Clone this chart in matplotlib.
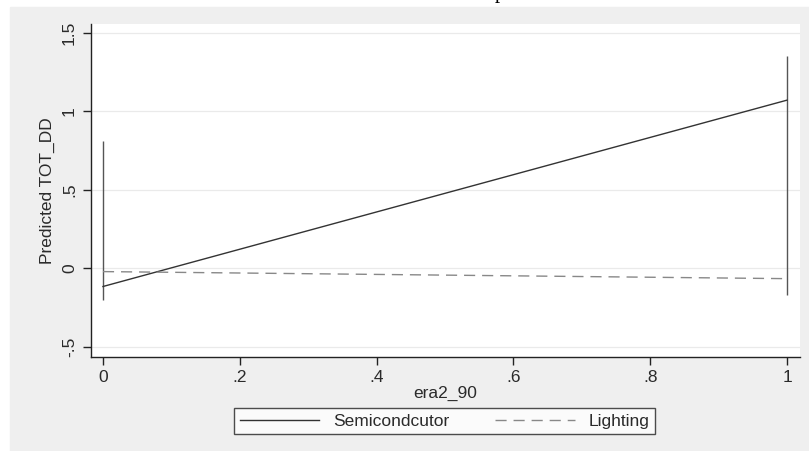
import matplotlib.pyplot as plt

plt.rcParams['font.family'] = ['Liberation Sans', 'DejaVu Sans']

# margins at era2_90 = 0 and 1
era = [0, 1]
semi = [-0.115, 1.072]
semi_lo = [-0.20, -0.17]
semi_hi = [0.81, 1.35]
light = [-0.02, -0.065]

yticks = [-0.5, 0, 0.5, 1, 1.5]
ylabels = ['-.5', '0', '.5', '1', '1.5']
xticks = [0, 0.2, 0.4, 0.6, 0.8, 1]
xlabels = ['0', '.2', '.4', '.6', '.8', '1']

fs = 12.5
tc = '#2a2a2a'

fig = plt.figure(figsize=(8.09, 4.51), dpi=100)
fig.patch.set_facecolor('white')
# stata grey graph region (white strip on top/left from the page)
bg = plt.Rectangle((10 / 809, 0), 1 - 10 / 809, 1 - 7 / 451,
                   transform=fig.transFigure, color='#efefef', zorder=-10)
fig.add_artist(bg)
# cut-off text from the page above
fig.text(500 / 809, 1 + 1.5 / 451, 'p', family='Liberation Serif', fontsize=15,
         ha='center', va='baseline', color='black')

ax = fig.add_axes([91 / 809, 1 - 357 / 451, (800 - 91) / 809, (357 - 24) / 451])
ax.set_facecolor('white')

ax.set_xlim(-0.0175, 1.019)
ax.set_ylim(-0.564, 1.557)

for t in yticks:
    ax.axhline(t, color='#eaeaea', lw=0.9, zorder=1)

ax.vlines(era, semi_lo, semi_hi, color='#555555', lw=1.0, zorder=2)
ax.plot(era, semi, color='#333333', lw=1.0, label='Semicondcutor', zorder=3)
ax.plot(era, light, color='#888888', lw=1.0, ls=(0, (8, 5)), label='Lighting', zorder=3)

for s in ['top', 'right']:
    ax.spines[s].set_visible(False)
for s in ['left', 'bottom']:
    ax.spines[s].set_color('#222222')
    ax.spines[s].set_linewidth(1.0)

ax.set_yticks(yticks)
ax.set_yticklabels(ylabels, rotation=90, va='center', fontsize=fs, color=tc)
ax.set_xticks(xticks)
ax.set_xticklabels(xlabels, fontsize=fs, color=tc)
ax.tick_params(length=6, width=1, color='#222222', pad=4)
ax.tick_params(axis='x', pad=3)

ax.set_xlabel('era2_90', fontsize=fs, color=tc)
ax.xaxis.set_label_coords(0.5, -0.086)
ax.set_ylabel('Predicted TOT_DD', fontsize=fs, color=tc)
ax.yaxis.set_label_coords(-0.051, 0.5)

leg = ax.legend(loc='center', bbox_to_anchor=(444.5 / 809, 1 - 421 / 451),
                bbox_transform=fig.transFigure, ncol=2,
                fontsize=fs, frameon=True, fancybox=False, handlelength=4.6,
                handletextpad=0.8, columnspacing=2.6, borderpad=0.3,
                borderaxespad=0, edgecolor='#222222')
leg.get_frame().set_linewidth(1.0)
for t in leg.get_texts():
    t.set_color(tc)

fig.savefig('out.png', dpi=100, facecolor=fig.get_facecolor())
